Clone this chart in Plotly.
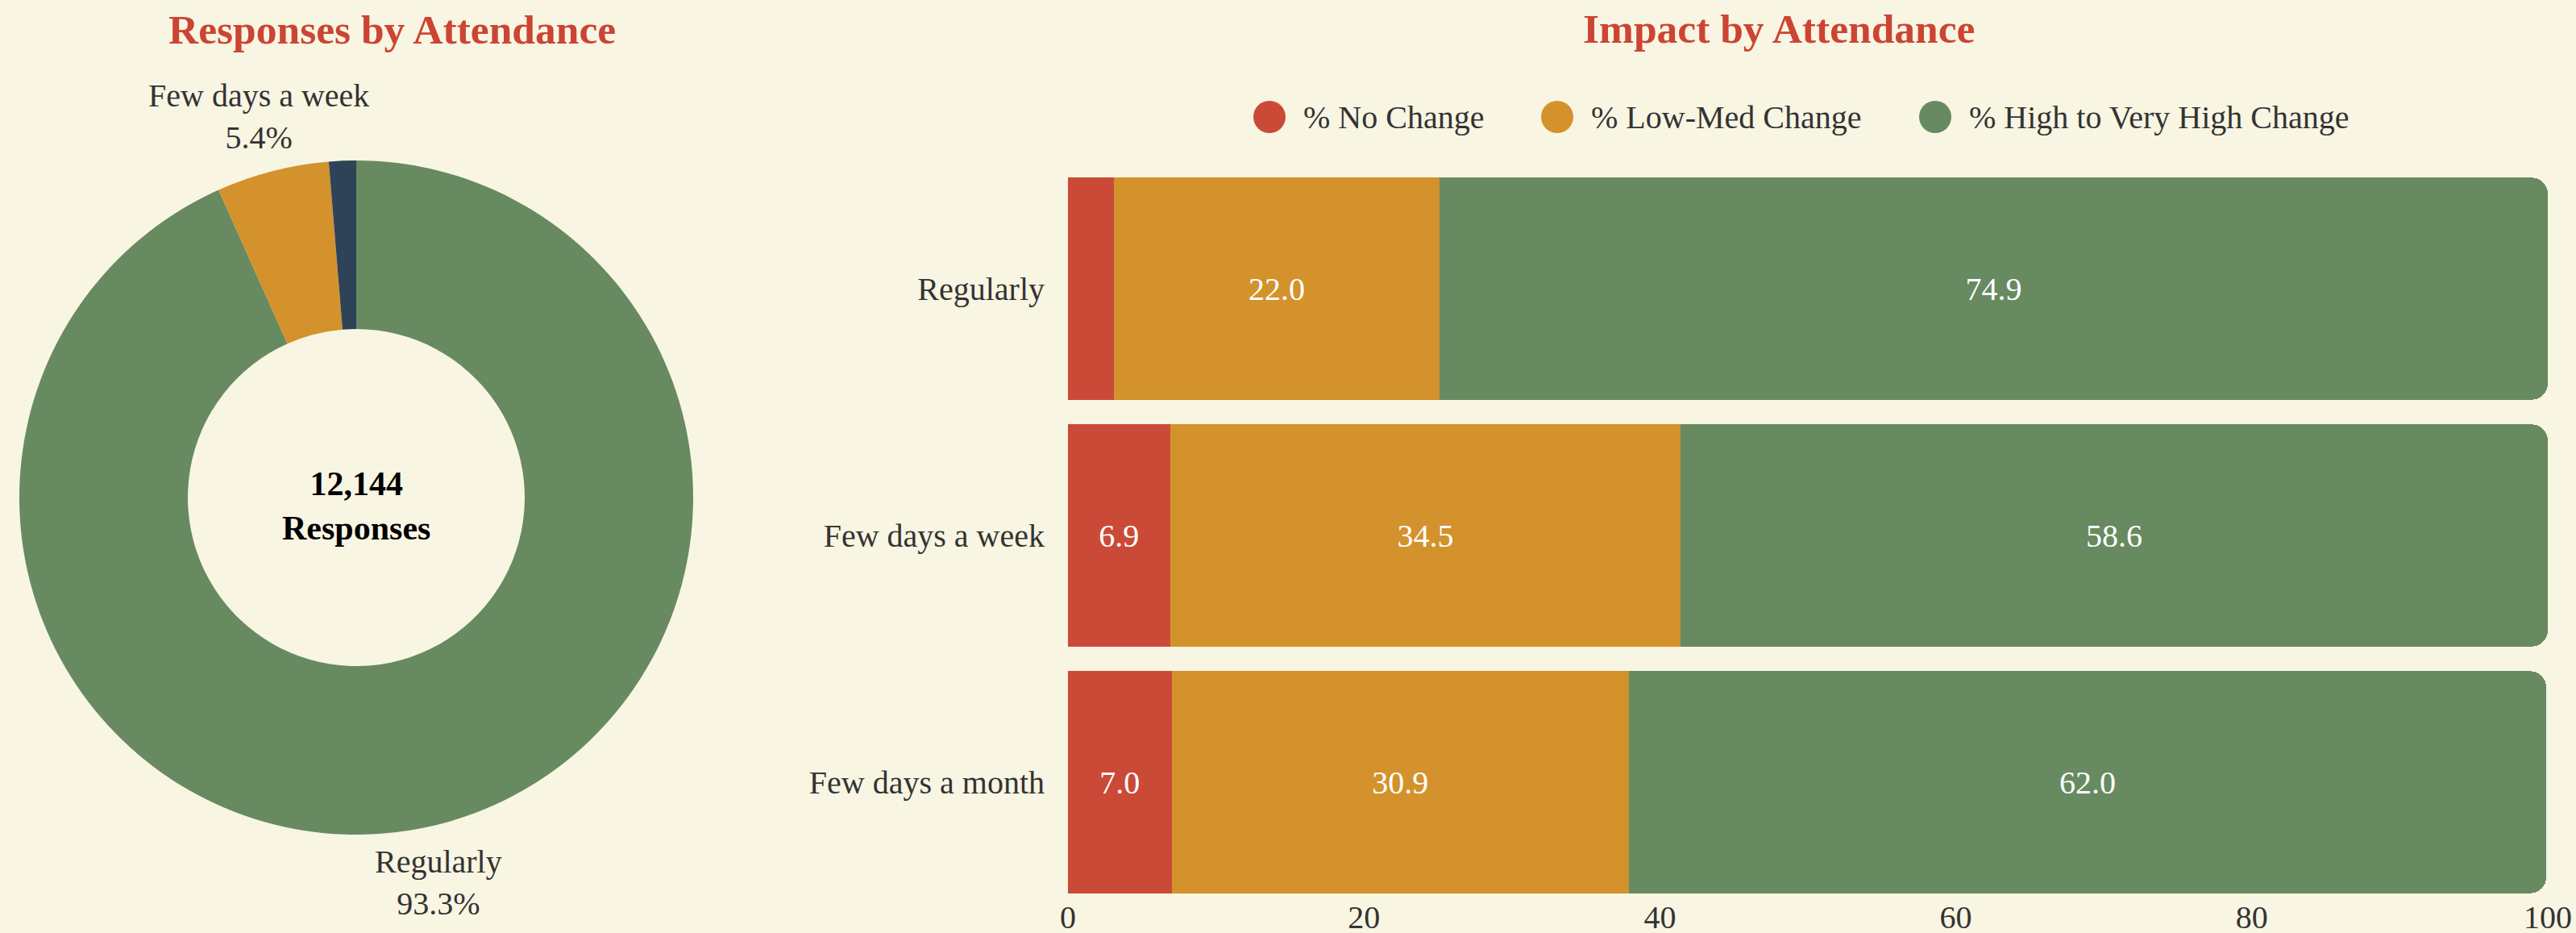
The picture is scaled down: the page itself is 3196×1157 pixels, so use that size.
import math
import plotly.graph_objects as go

# ---------------- data ----------------
pie_labels = ["Regularly", "Few days a week", "Few days a month"]
pie_counts = [11330, 656, 158]
total_responses = 12144

categories = ["Regularly", "Few days a week", "Few days a month"]
series_names = ["% No Change", "% Low-Med Change", "% High to Very High Change"]
no_change = [3.1, 6.9, 7.0]
low_med = [22.0, 34.5, 30.9]
high = [74.9, 58.6, 62.0]
x_ticks = [0, 20, 40, 60, 80, 100]

# ---------------- style ----------------
BG = "#f8f5e2"
RED = "#cb4a37"
ORANGE = "#d3922c"
GREEN = "#688a60"
NAVY = "#2f4358"
TEXT = "#333333"
TITLE = "#cc4433"
FONT = "Liberation Serif"
W, H = 3196, 1157

# donut geometry (pixels)
PIE_CX, PIE_CY, PIE_R = 442, 617, 418

fig = go.Figure()

# ---------------- donut ----------------
fig.add_trace(go.Pie(
    labels=pie_labels,
    values=pie_counts,
    hole=0.5,
    sort=False,
    direction="clockwise",
    rotation=0,
    marker=dict(colors=[GREEN, ORANGE, NAVY], line=dict(width=0)),
    textinfo="none",
    hoverinfo="label+percent",
    domain=dict(x=[(PIE_CX - PIE_R) / W, (PIE_CX + PIE_R) / W],
                y=[1 - (PIE_CY + PIE_R) / H, 1 - (PIE_CY - PIE_R) / H]),
    showlegend=False,
))

# outside labels centred on each slice's mid-angle
cum = 0.0
for lab, cnt in zip(pie_labels, pie_counts):
    frac = cnt / total_responses
    mid = (cum + frac / 2) * 2 * math.pi  # clockwise from 12 o'clock
    cum += frac
    if frac < 0.02:
        continue
    rl = PIE_R * 1.168
    px = PIE_CX + rl * math.sin(mid)
    py = PIE_CY - rl * math.cos(mid)
    fig.add_annotation(text=f"{lab}<br>{frac * 100:.1f}%", x=px / W, y=1 - py / H,
                       xref="paper", yref="paper", showarrow=False,
                       font=dict(family=FONT, size=40, color=TEXT),
                       xanchor="center", yanchor="middle")

# ---------------- stacked bars ----------------
series_vals = [no_change, low_med, high]
series_cols = [RED, ORANGE, GREEN]
for name, vals, col in zip(series_names, series_vals, series_cols):
    fig.add_trace(go.Bar(
        y=categories,
        x=vals,
        name=name,
        orientation="h",
        marker=dict(color=col, line=dict(width=0)),
        text=[f"{v:.1f}" if v >= 5 else "" for v in vals],
        textposition="inside",
        insidetextanchor="middle",
        textfont=dict(family=FONT, size=40, color="white"),
        xaxis="x",
        yaxis="y",
        showlegend=False,
    ))

fig.update_layout(
    width=W,
    height=H,
    paper_bgcolor=BG,
    plot_bgcolor=BG,
    margin=dict(l=0, r=0, t=0, b=0, autoexpand=False),
    barmode="stack",
    bargap=0.1,
    barcornerradius=20,
    font=dict(family=FONT, size=40, color=TEXT),
    xaxis=dict(
        domain=[1325 / W, 3161 / W],
        range=[0, 100],
        tickvals=x_ticks,
        showgrid=False,
        zeroline=False,
        showline=False,
        automargin=False,
        ticklabelstandoff=-13,
        tickfont=dict(family=FONT, size=40, color=TEXT),
        anchor="y",
    ),
    yaxis=dict(
        domain=[1 - 1123 / H, 1 - 205 / H],
        categoryorder="array",
        categoryarray=categories[::-1],
        showgrid=False,
        zeroline=False,
        showline=False,
        automargin=False,
        ticklabelstandoff=28,
        tickfont=dict(family=FONT, size=40, color=TEXT),
        anchor="x",
    ),
    showlegend=False,
)

# ---------------- titles & center label ----------------
fig.add_annotation(text="<b>Responses by Attendance</b>", x=486 / W, y=1 - 37 / H,
                   xref="paper", yref="paper", showarrow=False,
                   font=dict(family=FONT, size=51.5, color=TITLE), xanchor="center", yanchor="middle")
fig.add_annotation(text="<b>Impact by Attendance</b>", x=2207 / W, y=1 - 35 / H,
                   xref="paper", yref="paper", showarrow=False,
                   font=dict(family=FONT, size=51.5, color=TITLE), xanchor="center", yanchor="middle")
fig.add_annotation(text=f"<b>{total_responses:,}<br>Responses</b>", x=PIE_CX / W, y=1 - (PIE_CY + 10) / H,
                   xref="paper", yref="paper", showarrow=False,
                   font=dict(family=FONT, size=42, color="black"), xanchor="center", yanchor="middle")

# ---------------- custom legend (circle markers) ----------------
legend_circle_x = [1575, 1932, 2401]
legend_y = 145
for name, col, cx in zip(series_names, series_cols, legend_circle_x):
    fig.add_shape(type="circle", xref="paper", yref="paper",
                  xsizemode="pixel", ysizemode="pixel",
                  xanchor=cx / W, yanchor=1 - legend_y / H,
                  x0=-20, x1=20, y0=-20, y1=20,
                  fillcolor=col, line=dict(width=0))
    fig.add_annotation(text=name, x=(cx + 40) / W, y=1 - legend_y / H,
                       xref="paper", yref="paper", showarrow=False,
                       font=dict(family=FONT, size=40, color=TEXT),
                       xanchor="left", yanchor="middle")

fig.write_html(
    "out.html",
    config={"displayModeBar": False},
    post_script="document.body.style.margin='0';document.body.style.overflow='hidden';",
)
